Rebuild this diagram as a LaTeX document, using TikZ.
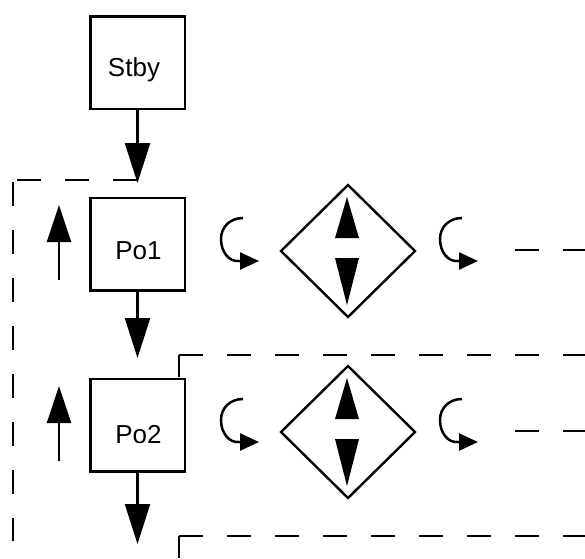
\documentclass[tikz,border=0pt]{standalone}
\usepackage{fontspec}
\setmainfont{Liberation Sans}
\usetikzlibrary{arrows.meta,shapes.geometric}
\begin{document}
\begin{tikzpicture}[x=1pt,y=-1pt,
  box/.style={draw,line width=2.5pt,fill=white,minimum width=94.5pt,minimum height=92.5pt,inner sep=0pt},
  lbl/.style={font=\fontsize{26}{30}\selectfont,inner sep=0pt,anchor=base},
  arr/.style={line width=2.4pt,-{Triangle[length=40pt,width=25pt]}},
  uparr/.style={line width=2.4pt,-{Triangle[length=37pt,width=24pt]}},
  dsh/.style={line width=2.4pt,dash pattern=on 24pt off 24pt},
  solidl/.style={line width=2.4pt},
  dia/.style={draw,diamond,line width=2.4pt,minimum width=135pt,minimum height=133pt,inner sep=0pt},
  curv/.style={line width=2.5pt,-{Triangle[length=19pt,width=17pt]}},
  tri/.style={fill=black}]
\useasboundingbox (0,0) rectangle (585,558);

% state boxes
\node[box] (stby) at (137.5,62.5) {};
\node[lbl] (stbyt) at (134,76) {Stby};
\node[box] (po1) at (137.5,244) {};
\node[lbl] (po1t) at (138.5,259) {Po1};
\node[box] (po2) at (137.5,425) {};
\node[lbl] (po2t) at (138.5,443) {Po2};

% downward arrows
\coordinate (t1) at (137.5,183);
\coordinate (t2) at (137.5,358);
\coordinate (t3) at (137.5,544);
\draw[arr] (stby.south) -- (t1);
\draw[arr] (po1.south) -- (t2);
\draw[arr] (po2.south) -- (t3);

% left upward arrows
\coordinate (u1a) at (59,280);
\coordinate (u1b) at (59,205);
\coordinate (u2a) at (59,461);
\coordinate (u2b) at (59,386);
\draw[uparr] (u1a) -- (u1b);
\draw[uparr] (u2a) -- (u2b);

% big dashed loop
\coordinate (L0) at (137,180);
\coordinate (L1) at (13,180);
\coordinate (L2) at (13,182);
\coordinate (L3) at (13,541);
\draw[dsh] (L0) -- (L1);
\draw[dsh] (L2) -- (L3);

% dashed line from Po2 top
\coordinate (P0) at (179,377);
\coordinate (P1) at (179,355);
\coordinate (P2) at (585,355);
\draw[solidl] (P0) -- (P1);
\draw[dsh] (P1) -- (P2);

% bottom dashed line
\coordinate (B0) at (179,558);
\coordinate (B1) at (179,536);
\coordinate (B2) at (585,536);
\draw[solidl] (B0) -- (B1);
\draw[dsh] (B1) -- (B2);

% rows with diamonds
\foreach \i/\y in {1/251,2/432} {
  \node[dia] (d\i) at (348,\y) {};
  \fill[tri] (347,\y-54) -- (359,\y-13) -- (335,\y-13) -- cycle;
  \fill[tri] (335,\y+7) -- (359,\y+7) -- (347,\y+54) -- cycle;
  \draw[curv] (243,\y-33) .. controls (230,\y-33) and (221,\y-24) .. (221,\y-12)
     .. controls (221,\y+1) and (229,\y+11) .. (239,\y+10) -- (259,\y+10);
  \draw[curv] (462,\y-33) .. controls (449,\y-33) and (440,\y-24) .. (440,\y-12)
     .. controls (440,\y+1) and (448,\y+11) .. (458,\y+10) -- (478,\y+10);
  \draw[dsh] (515,\y-1) -- (585,\y-1);
}
\end{tikzpicture}
\end{document}
